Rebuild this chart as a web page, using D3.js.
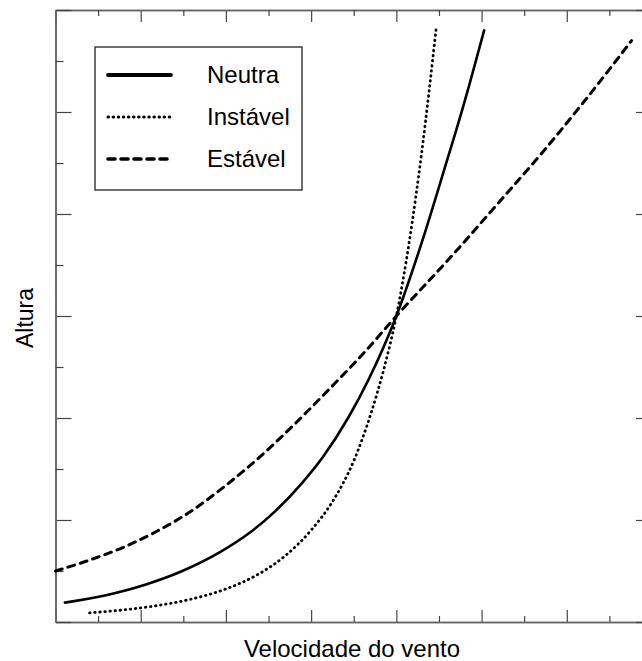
<!DOCTYPE html>
<html lang="pt">
<head>
    <meta charset="UTF-8">
    <title>Perfis de vento</title>
    <script src="https://d3js.org/d3.v7.min.js"></script>
    <style>
        body {
            margin: 0;
            background: #fff;
            font-family: "Liberation Sans", Arial, sans-serif;
        }
        .axis path { stroke: #666; stroke-width: 1.5; }
        .axis line { stroke: #444; stroke-width: 1.2; }
        .curve { fill: none; stroke: #000; }
    </style>
</head>
<body>
    <svg id="chart" width="642" height="661"></svg>
    <script>
        // Velocidade do vento (x) vs Altura (y), unidades arbitrárias
        const neutraVel = [0.11, 0.58, 1.07, 1.46, 1.94, 2.27, 2.57, 2.89, 3.14, 3.44, 3.67, 4.00, 4.29, 4.56, 4.80, 5.03];
        const neutraAlt = [0.19, 0.26, 0.37, 0.49, 0.69, 0.87, 1.08, 1.36, 1.62, 2.01, 2.37, 3.00, 3.70, 4.43, 5.10, 5.80];

        const instavelVel = [0.40, 0.80, 1.20, 1.60, 2.00, 2.40, 2.70, 3.00, 3.25, 3.50, 3.70, 3.85, 4.00, 4.15, 4.30, 4.47];
        const instavelAlt = [0.09, 0.119, 0.162, 0.226, 0.324, 0.478, 0.652, 0.90, 1.18, 1.58, 2.04, 2.47, 3.00, 3.72, 4.62, 5.84];

        const estavelVel = [0.00, 0.41, 0.79, 1.19, 1.58, 1.97, 2.44, 2.83, 3.22, 3.61, 4.00, 4.63, 5.22, 5.69, 6.21, 6.76];
        const estavelAlt = [0.50, 0.61, 0.73, 0.89, 1.08, 1.32, 1.65, 1.96, 2.29, 2.63, 3.00, 3.57, 4.13, 4.58, 5.11, 5.70];

        const legendNames = ["Neutra", "Instável", "Estável"];
        const xTitle = "Velocidade do vento";
        const yTitle = "Altura";

        const margin = {top: 10, left: 55.5};
        const plotW = 596.5, plotH = 612;

        const svg = d3.select("#chart");
        const g = svg.append("g").attr("transform", `translate(${margin.left},${margin.top})`);

        const x = d3.scaleLinear().domain([0, 7]).range([0, plotW]);
        const y = d3.scaleLinear().domain([0, 6]).range([plotH, 0]);

        const xMajor = d3.range(0, 8, 1);
        const xMinor = d3.range(0.5, 7, 1);
        const yMajor = d3.range(0, 7, 1);
        const yMinor = d3.range(0.5, 6, 1);

        function addAxis(axisFn, scale, values, size, tx, ty) {
            g.append("g")
                .attr("class", "axis")
                .attr("transform", `translate(${tx},${ty})`)
                .call(axisFn(scale).tickValues(values).tickSizeInner(-size).tickSizeOuter(0).tickFormat(""));
        }
        addAxis(d3.axisBottom, x, xMajor, 12, 0, plotH);
        addAxis(d3.axisBottom, x, xMinor, 6, 0, plotH);
        addAxis(d3.axisTop, x, xMajor, 12, 0, 0);
        addAxis(d3.axisTop, x, xMinor, 6, 0, 0);
        addAxis(d3.axisLeft, y, yMajor, 16, 0, 0);
        addAxis(d3.axisLeft, y, yMinor, 8, 0, 0);
        addAxis(d3.axisRight, y, yMajor, 16, plotW, 0);
        addAxis(d3.axisRight, y, yMinor, 8, plotW, 0);

        const line = d3.line()
            .x(d => x(d[0]))
            .y(d => y(d[1]))
            .curve(d3.curveMonotoneX);

        const series = [
            {vel: neutraVel, alt: neutraAlt, dash: null, width: 2.6, legendWidth: 3.8},
            {vel: instavelVel, alt: instavelAlt, dash: "0.5,4.6", width: 2.8, legendWidth: 3},
            {vel: estavelVel, alt: estavelAlt, dash: "7,6", width: 3, legendWidth: 3.6}
        ];

        series.forEach(s => {
            g.append("path")
                .attr("class", "curve")
                .attr("d", line(d3.zip(s.vel, s.alt)))
                .attr("stroke-width", s.width)
                .attr("stroke-linecap", "round")
                .attr("stroke-dasharray", s.dash);
        });

        // legenda
        const legend = svg.append("g").attr("transform", "translate(95,47)");
        legend.append("rect")
            .attr("width", 207)
            .attr("height", 143)
            .attr("fill", "#fff")
            .attr("stroke", "#222")
            .attr("stroke-width", 1.3);

        series.forEach((s, i) => {
            const ly = 28 + i * 42;
            legend.append("line")
                .attr("x1", 13).attr("x2", 76)
                .attr("y1", ly).attr("y2", ly)
                .attr("stroke", "#000")
                .attr("stroke-width", s.legendWidth)
                .attr("stroke-linecap", "round")
                .attr("stroke-dasharray", s.dash);
            legend.append("text")
                .attr("x", 112)
                .attr("y", ly + 8)
                .attr("font-size", 24)
                .text(legendNames[i]);
        });

        svg.append("text")
            .attr("x", 352)
            .attr("y", 657)
            .attr("text-anchor", "middle")
            .attr("font-size", 24)
            .text(xTitle);

        svg.append("text")
            .attr("transform", "translate(33,318) rotate(-90)")
            .attr("text-anchor", "middle")
            .attr("font-size", 23)
            .text(yTitle);
    </script>
</body>
</html>
